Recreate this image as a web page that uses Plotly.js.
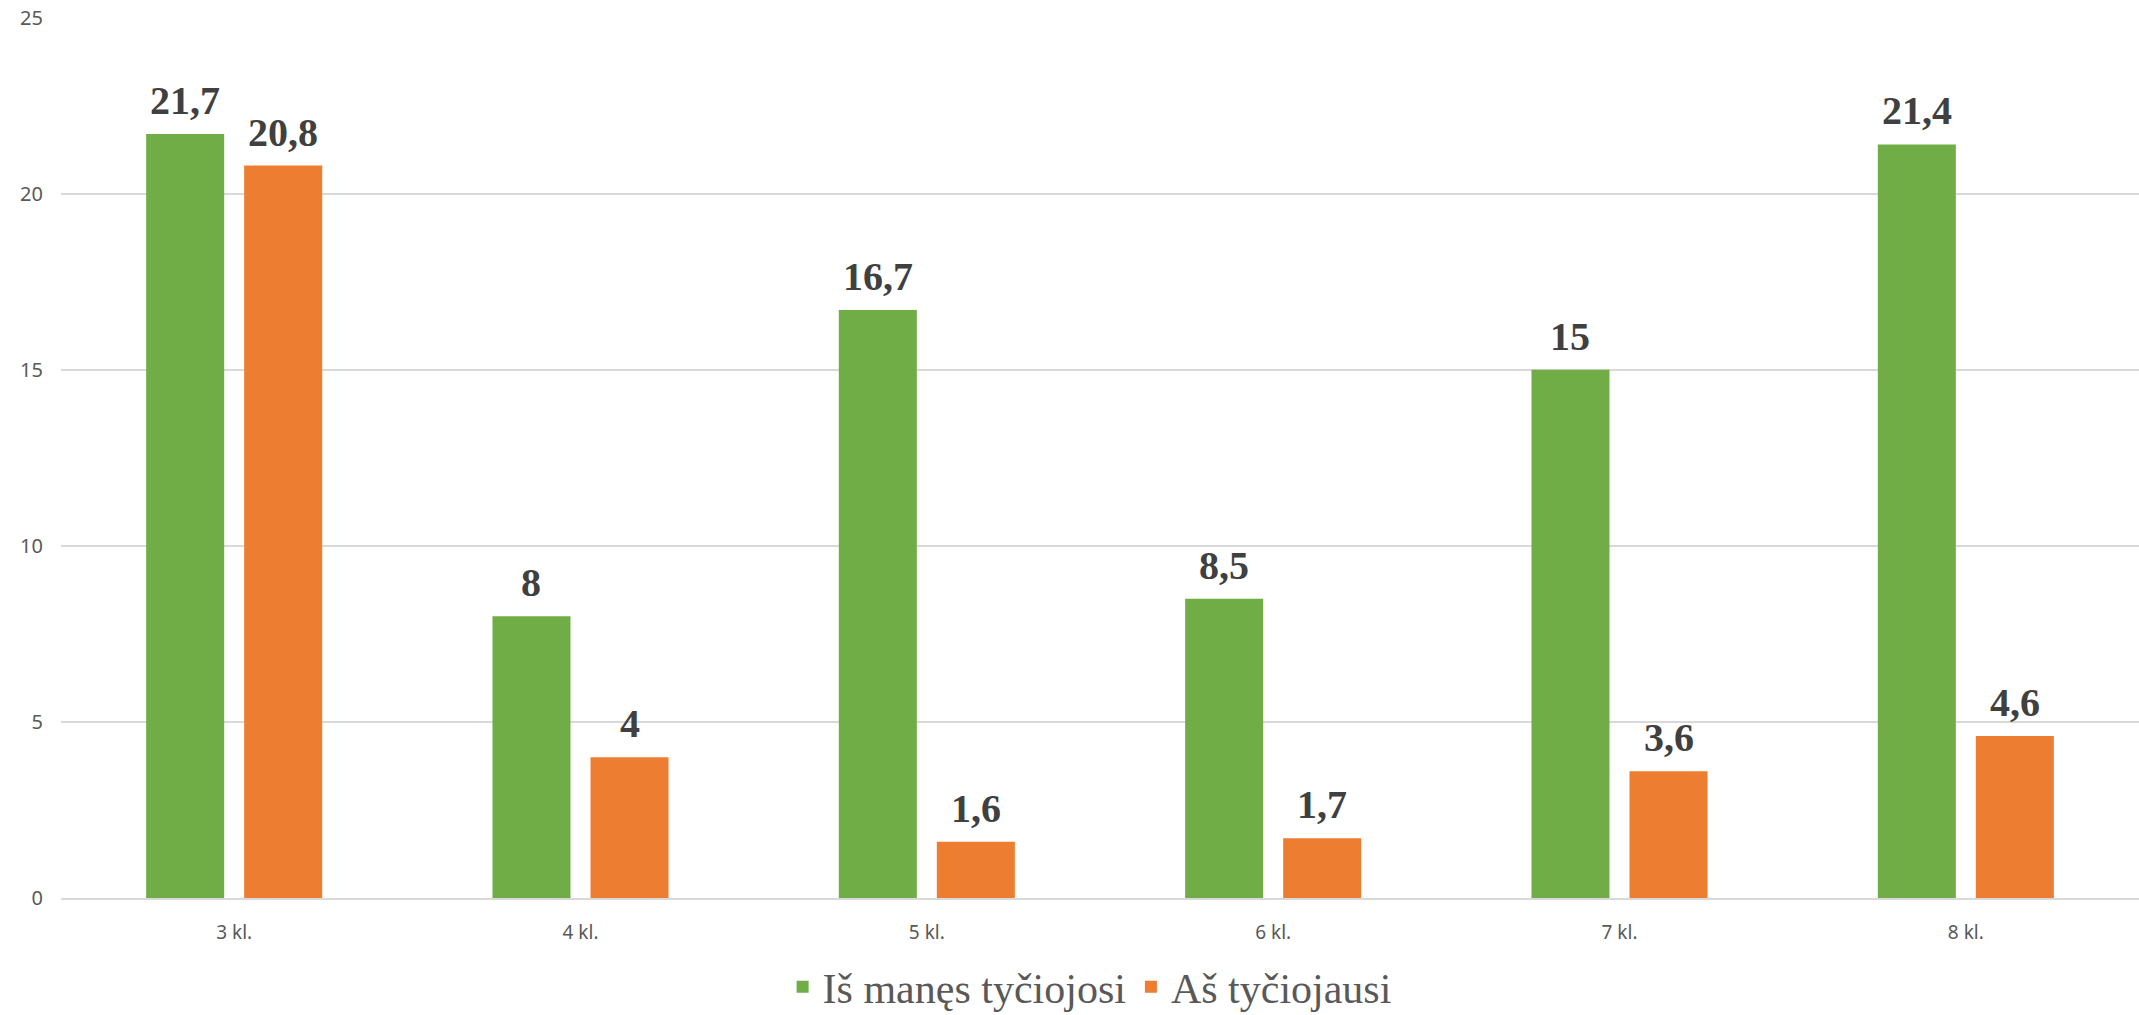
<!DOCTYPE html>
<html>
<head>
<meta charset="utf-8">
<script src="https://cdn.plot.ly/plotly-3.0.1.min.js"></script>
<style>html,body{margin:0;padding:0;background:#fff;}#chart{width:2139px;height:1015px;}</style>
</head>
<body>
<div id="chart"></div>
<script>
var categories = ["3 kl.", "4 kl.", "5 kl.", "6 kl.", "7 kl.", "8 kl."];
var seriesNames = ["Iš manęs tyčiojosi", "Aš tyčiojausi"];
var bulliedValues = [21.7, 8, 16.7, 8.5, 15, 21.4];
var bullyingValues = [20.8, 4, 1.6, 1.7, 3.6, 4.6];
var yTickValues = [0, 5, 10, 15, 20, 25];

function fmt(v) { return String(v).replace('.', ','); }

var W = 2139, H = 1015;
var margin = {l: 61, r: 0, t: 17, b: 117};
var bargap = 0.434, bargroupgap = 0.204;

var labelFont = {family: "Liberation Serif", size: 40, color: "#404040", weight: "bold"};
var serifFont = "Liberation Serif";

var traces = [
  {
    type: "bar", name: seriesNames[0], x: categories, y: bulliedValues,
    marker: {color: "#70AD47"}, hoverinfo: "x+y"
  },
  {
    type: "bar", name: seriesNames[1], x: categories, y: bullyingValues,
    marker: {color: "#ED7D31"}, hoverinfo: "x+y"
  }
];

// Data labels as annotations tied to each bar's category & value; horizontal offset = half a bar slot
var plotW = W - margin.l - margin.r;
var catW = plotW / categories.length;
var slot = catW * (1 - bargap) / 2;
var annotations = [];
[bulliedValues, bullyingValues].forEach(function (vals, ti) {
  var shift = (ti === 0 ? -1 : 1) * slot / 2;
  vals.forEach(function (v, i) {
    annotations.push({
      x: categories[i], y: v, xref: "x", yref: "y",
      text: fmt(v), showarrow: false, xanchor: "center", yanchor: "bottom",
      xshift: shift, yshift: 9, font: labelFont
    });
  });
});

var layout = {
  width: W, height: H,
  margin: margin,
  paper_bgcolor: "#ffffff", plot_bgcolor: "#ffffff",
  barmode: "group", bargap: bargap, bargroupgap: bargroupgap,
  showlegend: true,
  legend: {
    orientation: "h", x: 0.495, xref: "paper", xanchor: "center",
    y: (H - 987) / H, yref: "container", yanchor: "middle",
    font: {family: serifFont, size: 42, color: "#595959"},
    traceorder: "normal", itemwidth: 30
  },
  annotations: annotations,
  xaxis: {
    type: "category", showgrid: false, showline: true, linecolor: "#d9d9d9", linewidth: 2,
    ticks: "", ticklabelstandoff: 16, automargin: false,
    tickfont: {family: "Noto Sans, sans-serif", size: 19, color: "#595959"}
  },
  yaxis: {
    range: [0, 25.02], tickvals: yTickValues, showgrid: true, gridcolor: "#d9d9d9", gridwidth: 1.5,
    zeroline: false, showline: false, ticks: "", ticklabelstandoff: 17, automargin: false,
    tickfont: {family: "Noto Sans, sans-serif", size: 20, color: "#595959"}
  }
};

Plotly.newPlot("chart", traces, layout, {displayModeBar: false, staticPlot: true});
</script>
</body>
</html>
